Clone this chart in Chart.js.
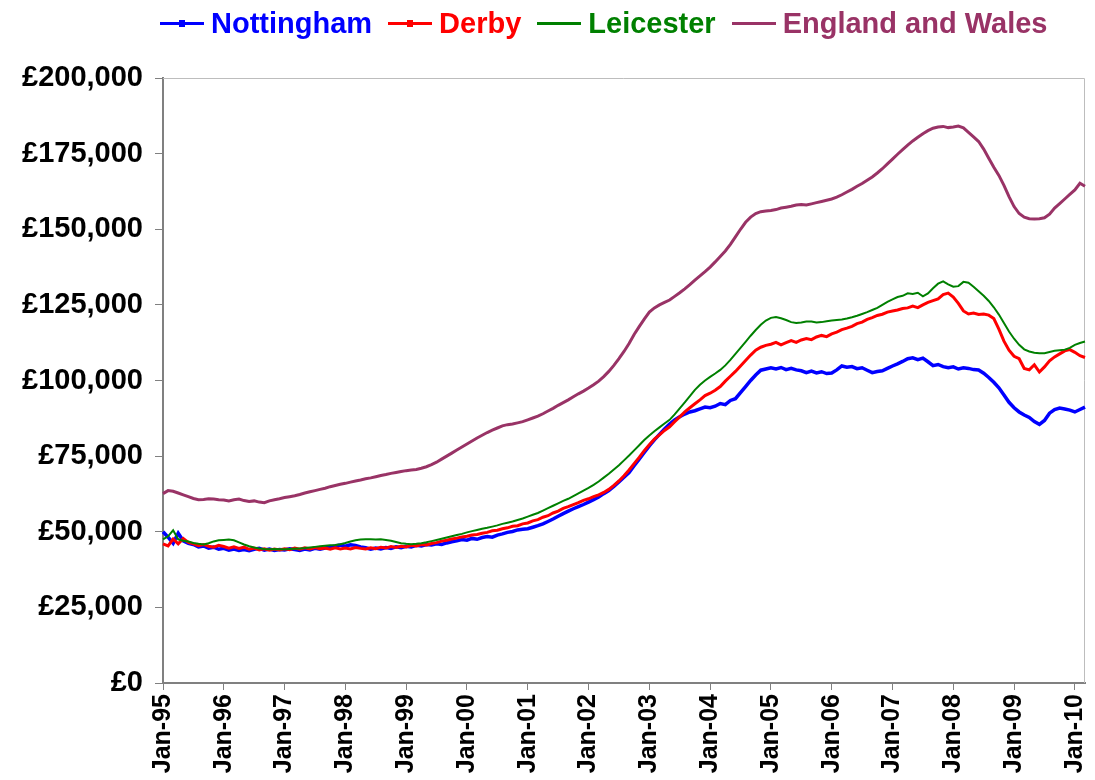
<!DOCTYPE html>
<html>
<head>
<meta charset="utf-8">
<script src="https://cdn.jsdelivr.net/npm/chart.js@4.4.1/dist/chart.umd.min.js"></script>
<style>
  html, body { margin: 0; padding: 0; background: #fff; }
  #wrap { position: relative; width: 1095px; height: 780px; }
  #legend {
    position: absolute; left: 160px; top: 6px; height: 34px;
    display: flex; align-items: center;
    font: bold 29px "Liberation Sans", Arial, sans-serif;
  }
  .item { display: flex; align-items: center; margin-right: 16px; }
  .swatch { position: relative; width: 44px; height: 3px; margin-right: 7px; }
  .swatch .dot { position: absolute; left: 19px; top: -2px; width: 6px; height: 7px; }
</style>
</head>
<body>
<div id="wrap">
  <div id="legend"></div>
  <canvas id="prices" width="1095" height="780"></canvas>
</div>
<script>
// Average house prices, monthly Jan-95 .. Mar-10, in thousands of pounds
const monthNames = ['Jan', 'Feb', 'Mar', 'Apr', 'May', 'Jun', 'Jul', 'Aug', 'Sep', 'Oct', 'Nov', 'Dec'];
const years = ['95', '96', '97', '98', '99', '00', '01', '02', '03', '04', '05', '06', '07', '08', '09', '10'];
const monthsInLastYear = 3;

const seriesNames = ['Nottingham', 'Derby', 'Leicester', 'England and Wales'];
const seriesColors = ['#0000ff', '#ff0000', '#008000', '#993366'];

const nottingham = [
  50.0, 48.2, 46.2, 49.5, 47.0, 46.2, 45.8, 45.0, 45.3, 44.6, 44.9, 44.2,
  44.5, 43.9, 44.3, 43.8, 44.1, 43.7, 44.2, 44.5, 43.9, 44.3, 43.8, 44.1,
  44.0, 44.4, 44.1, 43.8, 44.3, 44.0, 44.5, 44.2, 44.6, 44.9, 45.3, 45.6,
  45.2, 45.7, 45.5, 45.0, 44.7, 44.2, 44.6, 44.3, 44.8, 44.5, 45.0, 44.7,
  45.2, 45.0, 45.5, 45.3, 45.8, 45.6, 46.0, 45.8, 46.3, 46.7, 47.0, 47.4,
  47.2, 47.8, 47.5, 48.1, 48.4, 48.2, 48.9, 49.3, 49.8, 50.1, 50.6, 50.8,
  51.0, 51.5, 52.0, 52.6, 53.4, 54.2, 55.1, 56.0, 56.8, 57.6, 58.3, 59.0,
  59.8, 60.6, 61.5, 62.6, 63.6, 65.0, 66.5, 68.0, 69.6, 71.8, 74.0, 76.2,
  78.4, 80.4, 82.2, 84.0, 85.6, 87.0, 88.0, 88.9, 89.6, 90.0, 90.6, 91.2,
  91.0, 91.5, 92.4, 92.0, 93.4, 94.0, 96.0, 98.0, 100.0, 101.8, 103.4, 103.8,
  104.2, 103.8, 104.3, 103.6, 104.0, 103.5, 103.2, 102.6, 103.1, 102.5, 102.9, 102.3,
  102.5, 103.5, 104.8, 104.4, 104.6, 103.9, 104.2, 103.4, 102.6, 103.0, 103.2, 104.0,
  104.8, 105.5, 106.3, 107.2, 107.5, 106.9, 107.4, 106.2, 104.9, 105.3, 104.6, 104.2,
  104.5, 103.8, 104.2, 104.0, 103.6, 103.5, 102.4, 101.0, 99.4, 97.6, 95.2, 92.8,
  91.0, 89.6, 88.6, 87.8, 86.4, 85.5, 86.8, 89.2, 90.4, 90.9, 90.6, 90.2,
  89.6, 90.4, 91.2
];

const derby = [
  46.0, 45.3, 47.6, 46.0, 47.8, 46.5, 46.0, 45.4, 45.8, 45.2, 44.9, 45.5,
  45.1, 44.6, 45.0, 44.5, 44.9, 44.2, 44.6, 44.0, 44.4, 43.9, 44.3, 44.0,
  44.4, 44.1, 44.6, 44.2, 44.7, 44.3, 44.8, 44.4, 44.6, 44.2, 44.7, 44.3,
  44.6, 44.3, 44.8, 44.5, 44.3, 44.7, 44.4, 44.9, 44.6, 45.1, 44.8, 45.2,
  45.0, 45.5, 45.3, 45.8, 45.6, 46.1, 46.4, 46.9, 47.2, 47.6, 47.9, 48.3,
  48.5, 48.9, 49.1, 49.5, 49.8, 50.3, 50.5, 51.0, 51.3, 51.8, 52.0, 52.6,
  52.9, 53.6, 54.0, 54.8, 55.3, 56.2, 56.8, 57.7, 58.3, 59.0, 59.6, 60.4,
  60.9, 61.6, 62.2, 63.0, 64.0, 65.3, 66.8, 68.5, 70.4, 72.5, 74.6, 76.8,
  78.8, 80.6, 82.0, 83.5, 84.7, 86.4, 88.0, 89.6, 91.0, 92.3, 93.6, 95.0,
  95.8, 96.8, 98.0, 99.8, 101.4, 103.0, 104.8, 106.6, 108.4, 110.0, 111.0, 111.6,
  112.0, 112.6, 111.8, 112.5, 113.2, 112.6, 113.4, 113.9, 113.5, 114.4, 114.9, 114.5,
  115.4, 116.0, 116.8, 117.3, 117.9, 118.8, 119.3, 120.2, 120.8, 121.5, 121.9, 122.6,
  123.0, 123.3, 123.8, 124.0, 124.6, 124.1, 125.0, 125.8, 126.4, 127.0, 128.4, 128.9,
  127.6, 125.5, 123.0, 122.0, 122.3, 121.8, 122.0, 121.6, 120.5, 117.0, 113.0, 110.0,
  108.0, 107.2, 104.0, 103.5, 105.2, 102.8, 104.5, 106.5, 107.8, 108.8, 109.8, 110.2,
  109.3, 108.2, 107.6
];

const leicester = [
  47.5, 48.5, 50.5, 47.5, 47.0, 46.8, 46.3, 46.0, 45.8, 46.2, 46.8, 47.2,
  47.3, 47.4, 47.2, 46.5, 45.8, 45.2, 44.8, 44.5, 44.3, 44.2, 44.3, 44.2,
  44.2, 44.3, 44.4, 44.5, 44.6, 44.8, 45.0, 45.2, 45.4, 45.5, 45.6, 45.9,
  46.3, 46.8, 47.2, 47.4, 47.5, 47.5, 47.4, 47.5, 47.3, 47.0, 46.6, 46.2,
  46.0, 45.9, 46.0, 46.2, 46.5, 46.9, 47.3, 47.7, 48.1, 48.5, 48.9, 49.3,
  49.8, 50.2, 50.6, 51.0, 51.3, 51.7, 52.1, 52.6, 53.0, 53.4, 53.9, 54.4,
  55.0, 55.6, 56.2, 57.0, 57.8, 58.6, 59.4, 60.2, 60.9, 61.8, 62.7, 63.6,
  64.5, 65.5, 66.6, 67.9, 69.2, 70.6, 72.0, 73.6, 75.2, 76.9, 78.6, 80.3,
  81.8, 83.2, 84.5, 85.8, 87.0, 88.8, 90.8, 92.8, 94.8, 96.9, 98.6, 100.0,
  101.2, 102.3, 103.5, 105.0, 106.8, 108.8, 110.8, 112.8, 114.8, 116.7, 118.4, 119.8,
  120.7, 121.0, 120.6, 120.0, 119.3, 119.0, 119.2, 119.5, 119.5, 119.2, 119.3, 119.6,
  119.8, 120.0, 120.2, 120.5, 120.9, 121.4, 122.0, 122.6, 123.3, 124.0, 125.0, 126.0,
  126.8, 127.6, 128.0, 128.8, 128.6, 129.0, 127.8, 128.8, 130.5, 132.0, 132.8, 131.8,
  131.0, 131.2, 132.6, 132.3, 131.0, 129.5, 128.0, 126.3, 124.2, 121.8, 119.0, 116.2,
  113.8, 111.8, 110.3, 109.6, 109.2, 109.0, 109.0, 109.4, 109.8, 110.0, 110.2, 110.8,
  111.8, 112.4, 112.9
];

const englandWales = [
  62.6, 63.6, 63.4, 62.8, 62.2, 61.6, 61.0, 60.6, 60.7, 60.9, 60.8, 60.6,
  60.5, 60.2, 60.6, 60.8, 60.3, 60.0, 60.2, 59.8, 59.6, 60.2, 60.6, 60.9,
  61.3, 61.6, 61.9, 62.3, 62.8, 63.2, 63.6, 64.0, 64.4, 64.9, 65.3, 65.7,
  66.0, 66.4, 66.8, 67.1, 67.5, 67.8, 68.2, 68.6, 68.9, 69.3, 69.6, 69.9,
  70.2, 70.4, 70.6, 71.0, 71.5, 72.2, 73.0, 74.0, 75.0, 76.0, 77.0, 78.0,
  79.0, 80.0, 81.0, 81.9, 82.8, 83.6, 84.3, 85.0, 85.4, 85.6, 86.0, 86.4,
  87.0, 87.6, 88.2, 89.0, 89.9, 90.8, 91.8, 92.7, 93.6, 94.6, 95.6, 96.5,
  97.5, 98.6, 99.8, 101.3, 103.0, 105.0, 107.2, 109.6, 112.2, 115.2, 117.8, 120.3,
  122.6, 124.0, 125.0, 125.8, 126.6, 127.8, 129.0, 130.3, 131.7, 133.2, 134.6, 136.0,
  137.5, 139.2, 141.0, 142.8, 145.0, 147.5, 150.0, 152.3, 154.0, 155.2, 155.8, 156.0,
  156.2, 156.5, 157.0, 157.3, 157.6, 158.0, 158.2, 158.0, 158.4, 158.8, 159.2, 159.6,
  160.0, 160.6, 161.4, 162.3, 163.2, 164.2, 165.1, 166.2, 167.3, 168.6, 170.0, 171.6,
  173.2, 174.8, 176.3, 177.8, 179.2, 180.4, 181.6, 182.6, 183.4, 183.8, 184.0, 183.6,
  183.8, 184.1, 183.5, 182.0, 180.5, 179.0, 176.5, 173.5, 170.5, 167.8, 164.5, 160.8,
  157.5, 155.2, 154.0, 153.5, 153.4, 153.5, 153.8, 155.0, 157.0, 158.5, 160.0, 161.5,
  163.0, 165.2, 164.2
];

const yTicks = [0, 25000, 50000, 75000, 100000, 125000, 150000, 175000, 200000];

// month labels like "Jan-95"
const labels = [];
years.forEach((yy, i) => {
  const count = i === years.length - 1 ? monthsInLastYear : 12;
  for (let m = 0; m < count; m++) labels.push(monthNames[m] + '-' + yy);
});

const seriesData = [nottingham, derby, leicester, englandWales];
const lineWidths = [3.5, 3, 2, 3];

// html legend above the plot
const legendEl = document.getElementById('legend');
seriesNames.forEach((name, i) => {
  const item = document.createElement('div');
  item.className = 'item';
  const sw = document.createElement('span');
  sw.className = 'swatch';
  sw.style.background = seriesColors[i];
  if (i < 2) {
    const dot = document.createElement('span');
    dot.className = 'dot';
    dot.style.background = seriesColors[i];
    sw.appendChild(dot);
  }
  const txt = document.createElement('span');
  txt.textContent = name;
  txt.style.color = seriesColors[i];
  item.appendChild(sw);
  item.appendChild(txt);
  legendEl.appendChild(item);
});

// light frame on the top and right of the plot area
const plotFrame = {
  id: 'plotFrame',
  beforeDatasetsDraw(chart) {
    const { ctx, chartArea: a } = chart;
    ctx.save();
    ctx.strokeStyle = '#bdbdbd';
    ctx.lineWidth = 1;
    ctx.beginPath();
    ctx.moveTo(a.left, a.top + 0.5);
    ctx.lineTo(a.right - 0.5, a.top + 0.5);
    ctx.lineTo(a.right - 0.5, a.bottom);
    ctx.stroke();
    ctx.restore();
  }
};

const font = { family: '"Liberation Sans", Arial, sans-serif', weight: 'bold' };

new Chart(document.getElementById('prices'), {
  type: 'line',
  data: {
    labels: labels,
    datasets: seriesData.map((vals, i) => ({
      label: seriesNames[i],
      data: vals.map(v => v * 1000),
      borderColor: seriesColors[i],
      backgroundColor: seriesColors[i],
      borderWidth: lineWidths[i],
      pointRadius: 0,
      tension: 0,
      fill: false,
      order: seriesData.length - i
    }))
  },
  options: {
    responsive: false,
    animation: false,
    devicePixelRatio: 1,
    layout: { padding: { top: 78, right: 10, left: 0, bottom: 0 } },
    plugins: {
      legend: { display: false },
      tooltip: { enabled: false }
    },
    scales: {
      x: {
        type: 'category',
        offset: false,
        grid: { drawOnChartArea: false, color: '#808080', tickLength: 7 },
        border: { color: '#808080', width: 2 },
        ticks: {
          autoSkip: false,
          minRotation: 90,
          maxRotation: 90,
          padding: 4,
          color: '#000',
          font: { ...font, size: 25 },
          callback: (val, idx) => (idx % 12 === 0 ? labels[idx] : null)
        },
        afterFit: scale => {
          scale.height = 97;
          scale.paddingLeft = 0;
          scale.paddingRight = 0;
        }
      },
      y: {
        min: 0,
        max: 200000,
        afterBuildTicks: scale => { scale.ticks = yTicks.map(v => ({ value: v })); },
        grid: { drawOnChartArea: false, color: '#808080', tickLength: 8 },
        border: { color: '#808080', width: 2 },
        ticks: {
          padding: 12,
          color: '#000',
          font: { ...font, size: 29 },
          callback: v => '£' + Number(v).toLocaleString('en-GB')
        },
        afterFit: scale => { scale.width = 163; }
      }
    }
  },
  plugins: [plotFrame]
});
</script>
</body>
</html>
